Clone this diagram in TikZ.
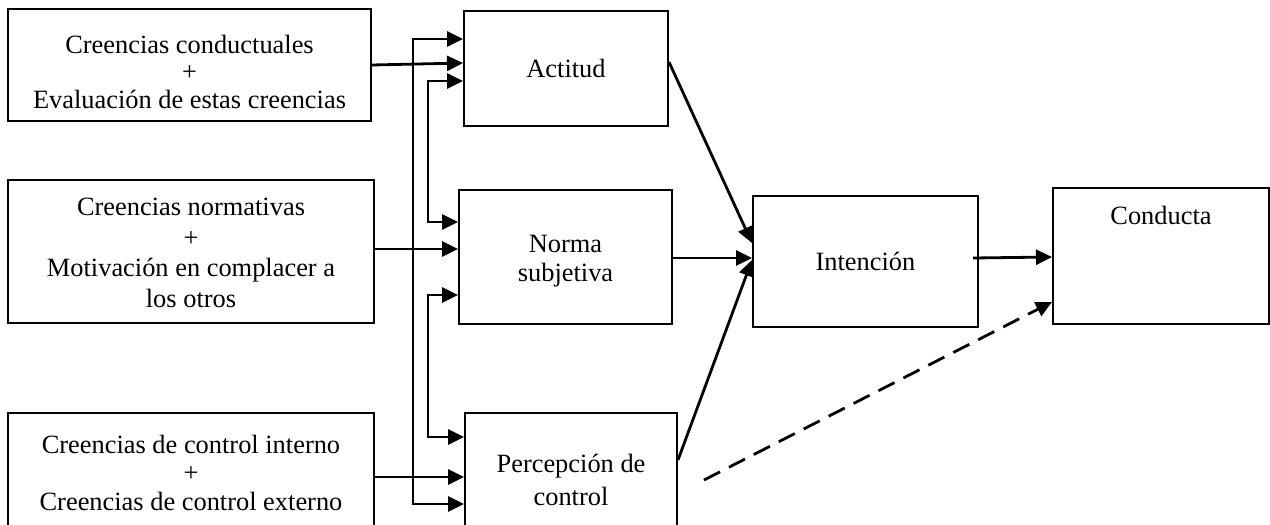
\documentclass[tikz,border=0pt]{standalone}
\usepackage{fontspec}
\setmainfont{Liberation Serif}
\usetikzlibrary{arrows.meta,calc}
\newcommand{\dnx}[2]{\raisebox{-#1}[\height][\depth]{\begin{tabular}{@{}c@{}}#2\end{tabular}}}
\begin{document}
\begin{tikzpicture}[x=0.5pt,y=-0.5pt,
  box/.style={draw,line width=1pt,inner sep=0pt,font=\fontsize{13.2}{15}\selectfont},
  lbl/.style={inner sep=0pt,font=\fontsize{13.2}{15}\selectfont},
  tip/.tip={Triangle[length=8pt,width=7.5pt]},
  arr/.style={line width=1.4pt,-tip},
  arrb/.style={line width=1.4pt,tip-tip},
  darr/.style={line width=1.4pt,-tip,dash pattern=on 9pt off 5pt}
]
\useasboundingbox (0,0) rectangle (1270,525);
% left boxes
\node[box,minimum width=181.5pt,minimum height=56pt,font=\fontsize{13.2}{13.75}\selectfont] (b1) at (189.5,65)
  {\dnx{5pt}{Creencias conductuales\\+\\Evaluación de estas creencias}};
\node[box,minimum width=183pt,minimum height=71.5pt,font=\fontsize{13.2}{15.3}\selectfont] (b2) at (191,251.5)
  {\dnx{2pt}{Creencias normativas\\+\\Motivación en complacer a\\los otros}};
\node[box,minimum width=183pt,minimum height=61pt,font=\fontsize{13.2}{14.25}\selectfont] (b3) at (191,474)
  {\dnx{1pt}{Creencias de control interno\\+\\Creencias de control externo}};
% middle boxes
\node[box,minimum width=102pt,minimum height=57.5pt] (act) at (566,68.5) {\dnx{1.5pt}{Actitud}};
\node[box,minimum width=106.5pt,minimum height=67pt,font=\fontsize{13.2}{14.5}\selectfont] (nor) at (565.5,257) {\dnx{2.2pt}{Norma\\subjetiva}};
\node[box,minimum width=106pt,minimum height=67pt,font=\fontsize{13.2}{16.5}\selectfont] (per) at (571,480) {\dnx{1pt}{Percepción de\\control}};
% right boxes
\node[box,minimum width=112.5pt,minimum height=65.5pt] (int) at (865.5,261.5) {Intención};
\node[box,minimum width=108pt,minimum height=68pt] (con) at (1161,256) {};
\node[lbl] (contxt) at (1161,215) {Conducta};
% left to middle arrows
\draw[arr] (b1.east) -- (act.west |- 0,63);
\draw[arr] (b2.east |- 0,249) -- (nor.west |- 0,249);
\draw[arr] (b3.east |- 0,477) -- (per.west |- 0,477);
% bracket connectors
\draw[arrb] (act.west |- 0,39) -| (413,504) -- (per.west |- 0,504);
\draw[arrb] (act.west |- 0,81) -| (428,222) -- (nor.west |- 0,222);
\draw[arrb] (nor.west |- 0,295) -| (428,437) -- (per.west |- 0,437);
% middle to intention
\draw[arr] (act.east |- 0,62) -- (int.west |- 0,243);
\draw[arr] (nor.east |- 0,258) -- (int.west |- 0,258);
\draw[arr] (per.east |- 0,460) -- (int.west |- 0,260);
% intention to behaviour
\draw[arr] ([xshift=-3pt]int.east |- 0,258) -- (con.west |- 0,257);
\draw[darr] ([xshift=13pt]per.east) -- (con.west |- 0,302);
\end{tikzpicture}
\end{document}
